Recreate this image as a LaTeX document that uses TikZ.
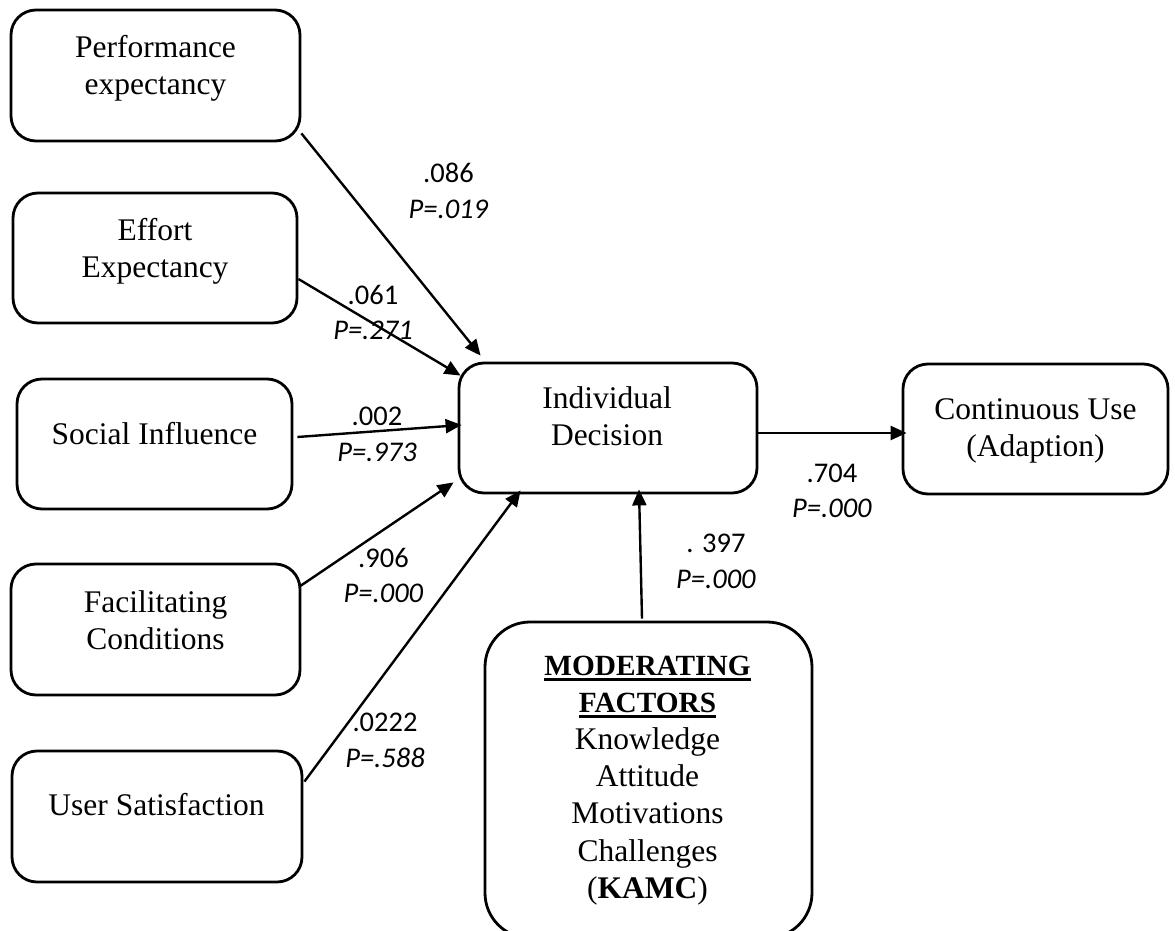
\documentclass[tikz,border=0pt]{standalone}
\usepackage{fontspec}
\setmainfont{Liberation Serif}
\newfontfamily\labfont{Carlito}
\usetikzlibrary{arrows.meta,calc}
\newcommand\myul[1]{\setbox0\hbox{#1}\rlap{\rule[-6pt]{\wd0}{3pt}}\box0}
\begin{document}
\begin{tikzpicture}[x=1pt,y=-1pt,
  box/.style={draw, line width=2.8pt, rounded corners=25pt, inner sep=0pt},
  txt/.style={align=center, font=\fontsize{31.5}{37}\selectfont, inner sep=0pt},
  lbl/.style={align=center, font=\labfont\fontsize{28.5}{35.5}\selectfont, inner sep=0pt},
  arr/.style={line width=2.4pt, -{Triangle[length=16pt,width=14pt]}}]
\useasboundingbox (0,0) rectangle (1175,931);
% boxes
\node[box, minimum width=289pt, minimum height=131pt] (pe) at (155.5,75.5) {};
\node[box, minimum width=284pt, minimum height=130pt] (ee) at (155,258) {};
\node[box, minimum width=275pt, minimum height=130pt] (si) at (154.5,444) {};
\node[box, minimum width=289pt, minimum height=131pt] (fc) at (155.5,629.5) {};
\node[box, minimum width=290pt, minimum height=131pt] (us) at (157,816.5) {};
\node[box, minimum width=298pt, minimum height=130pt] (id) at (608,428) {};
\node[box, minimum width=265pt, minimum height=130pt] (cu) at (1035.5,429) {};
\node[box, rounded corners=45pt, minimum width=327pt, minimum height=316pt] (mf) at (648.5,780) {};
% box texts
\node[txt] (pet) at (155.5,68) {Performance\\expectancy};
\node[txt] (eet) at (155,251) {Effort\\Expectancy};
\node[txt] (sit) at (154.5,434) {Social Influence};
\node[txt] (fct) at (155.5,620) {Facilitating\\Conditions};
\node[txt] (ust) at (156.5,805) {User Satisfaction};
\node[txt] (idt) at (607,416) {Individual\\Decision};
\node[txt] (cut) at (1035.5,431) {Continuous Use\\(Adaption)};
\node[txt, font=\fontsize{31.5}{37.2}\selectfont] (mft) at (647.5,780.4)
  {{\fontsize{29.3}{37.2}\selectfont\bfseries\myul{MODERATING}}\\
   {\fontsize{29.3}{37.2}\selectfont\bfseries\myul{FACTORS}}\\
   Knowledge\\Attitude\\Motivations\\Challenges\\(\textbf{KAMC})};
% labels
\node[lbl] (l1) at (448.5,191) {.086\\\textit{P=.019}};
\node[lbl] (l2) at (373,312.5) {.061\\\textit{P=.271}};
\node[lbl] (l3) at (377,434.5) {.002\\\textit{P=.973}};
\node[lbl] (l4) at (383.5,575.5) {.906\\\textit{P=.000}};
\node[lbl] (l5) at (385,740.5) {.0222\\\textit{P=.588}};
\node[lbl] (l6) at (832,491) {.704\\\textit{P=.000}};
\node[lbl] (l7) at (716,561.5) {. 397\\\textit{P=.000}};
% connectors
\draw[arr] ($(pe.south east)+(0,-9)$) -- ($(id.north west)+(23,-6)$);
\draw[arr] ($(ee.east)+(0,21)$) -- ($(id.north west)+(3,14)$);
\draw[arr] ($(si.east)+(4,-7)$) -- ($(id.west)+(4,-3)$);
\draw[arr] ($(fc.north east)+(-2,24)$) -- ($(id.south west)+(-4,-12)$);
\draw[arr] ($(us.north east)+(1,32)$) -- ($(id.south west)+(63,-4)$);
\draw[arr] ($(mf.north)+(-6.5,-2)$) -- ($(id.south)+(31,-5)$);
\draw[arr] ($(id.east)+(0,5)$) -- ($(cu.west)+(5,4)$);
\end{tikzpicture}
\end{document}
